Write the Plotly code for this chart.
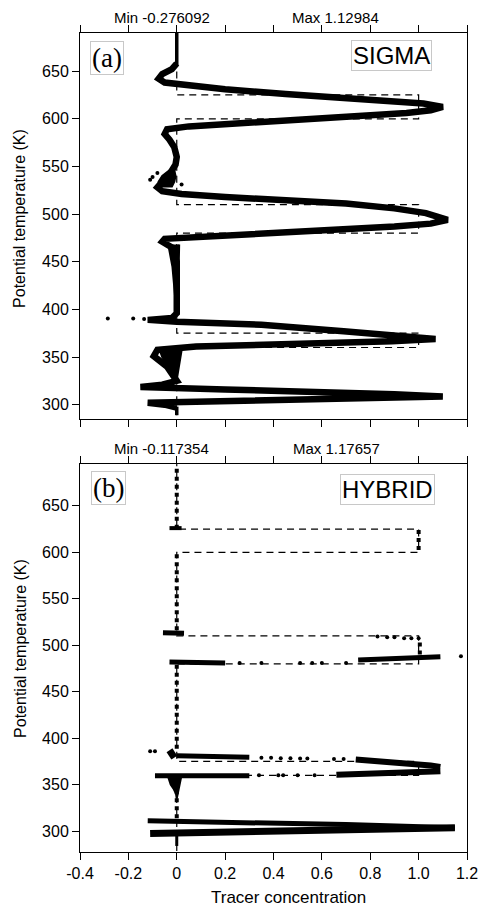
import plotly.graph_objects as go

# ---------------- data ----------------
x_tickvals = [-0.4, -0.2, 0, 0.2, 0.4, 0.6, 0.8, 1.0, 1.2]
x_ticktext = ["-0.4", "-0.2", "0", "0.2", "0.4", "0.6", "0.8", "1.0", "1.2"]
y_tickvals = [300, 350, 400, 450, 500, 550, 600, 650]
y_ticktext = ["300", "350", "400", "450", "500", "550", "600", "650"]

# initial square-wave tracer profile (dashed)
init_theta = [700, 625, 625, 600, 600, 510, 510, 480, 480, 375, 375, 360, 360, 270]
init_conc = [0, 0, 1, 1, 0, 0, 1, 1, 0, 0, 1, 1, 0, 0]

# ---- panel (a) SIGMA ----
sigma_top_theta = [690, 656]
sigma_top_conc = [0, 0]
sigma_theta = [658, 652, 647, 642, 638, 636, 631, 626, 622, 619, 616, 612.5, 609, 606, 603,
               600, 596, 592, 589, 584, 578, 570, 560, 552, 546, 541, 534, 528, 524, 521, 518,
               515, 511, 506, 501, 494, 490, 487, 483, 480, 477, 474, 471, 465, 450, 420, 396,
               391, 389, 387, 384, 377, 371, 369, 366.5, 363.5, 361, 357.5, 351, 340, 330, 325,
               321, 318.5, 316, 313.5, 311, 308.6, 306, 304, 302, 300, 297]
sigma_conc = [0, -0.02, -0.06, -0.075, -0.05, 0.02, 0.2, 0.45, 0.7, 0.9, 1.02, 1.1, 1.05, 0.95, 0.75,
              0.5, 0.25, 0.05, -0.04, -0.05, -0.03, -0.01, 0, -0.005, -0.02, -0.03, -0.06, -0.08, -0.06, 0.02, 0.2,
              0.45, 0.7, 0.9, 1.03, 1.12, 1.05, 0.9, 0.6, 0.35, 0.1, -0.05, -0.06, -0.02, 0, 0, 0,
              -0.02, -0.12, 0, 0.35, 0.69, 1.02, 1.07, 0.89, 0.48, 0.08, -0.08, -0.095, -0.04, -0.01, 0,
              -0.06, -0.15, 0.2, 0.62, 0.9, 1.1, 0.65, 0.3, -0.12, -0.05, 0]
sigma_tail_theta = [298, 289]
sigma_tail_conc = [0, 0]
# spread regions (closed outlines)
sigma_stem_theta = [468, 445, 417, 398, 398, 417, 445, 468]
sigma_stem_conc = [-0.035, -0.018, -0.008, -0.003, 0.003, 0.006, 0.008, 0.01]
sigma_blob_theta = [357, 350, 342, 334, 326, 334, 342, 350, 357]
sigma_blob_conc = [-0.07, -0.06, -0.04, -0.02, 0, 0.005, 0.01, 0.015, 0.02]
sigma_mid_theta = [546, 540, 534, 529, 529, 534, 540, 546]
sigma_mid_conc = [-0.03, -0.06, -0.075, -0.07, -0.02, -0.01, -0.005, -0.01]
sigma_out_theta = [390.5, 390.5, 390, 539, 543, 536, 531]
sigma_out_conc = [-0.285, -0.18, -0.135, -0.1, -0.08, -0.11, 0.02]

# ---- panel (b) HYBRID ----
# vertical dotted columns
hyb_col_conc = [0, 1.0, 0, 0, 0, 1.005]
hyb_col_top = [690, 624, 598, 479, 344, 503]
hyb_col_bot = [627, 601, 516, 388, 313, 489]
# dense near-horizontal bands
hyb_b1_theta = [626, 626]; hyb_b1_conc = [-0.03, 0.02]
hyb_b2_theta = [513.5, 513]; hyb_b2_conc = [-0.057, 0.03]
hyb_b3_theta = [484, 485, 486, 487.5]; hyb_b3_conc = [0.75, 0.9, 1.0, 1.09]
hyb_b4_theta = [482, 481.5, 481.5, 481]; hyb_b4_conc = [-0.03, 0.05, 0.135, 0.2]
hyb_b5_theta = [381, 380.5, 380, 379.5]; hyb_b5_conc = [0.0, 0.1, 0.2, 0.3]
hyb_b6_theta = [377, 375, 373, 370.5, 369]; hyb_b6_conc = [0.74, 0.85, 0.95, 1.05, 1.09]
hyb_b7_theta = [359.5, 359.5, 359.5]; hyb_b7_conc = [-0.09, 0.1, 0.3]
hyb_b8_theta = [360.5, 361.5, 362.5, 364.5]; hyb_b8_conc = [0.66, 0.8, 0.95, 1.09]
hyb_b9_theta = [387, 383, 379]; hyb_b9_conc = [-0.03, -0.02, -0.01]
hyb_up_theta = [311, 309.5, 307, 303.5]; hyb_up_conc = [-0.12, 0.3, 0.7, 1.15]
hyb_lo_theta = [297.5, 299, 301.5, 303.5]; hyb_lo_conc = [-0.11, 0.3, 0.7, 1.15]
hyb_tail_theta = [297, 284]; hyb_tail_conc = [0, 0]
hyb_blob_theta = [358, 350, 345, 340, 335, 340, 345, 350, 358]
hyb_blob_conc = [-0.035, -0.025, -0.012, -0.003, 0, 0.004, 0.008, 0.012, 0.018]
# scattered single points
hyb_dot_theta = [509.5, 508.5, 508.5, 507.5, 507.5, 507.5, 488,
                 481, 481, 481, 481, 481, 481,
                 379, 379, 378.5, 378.5, 378, 378, 377.5, 377.5,
                 360, 360, 360, 360, 360, 386, 386]
hyb_dot_conc = [0.83, 0.87, 0.9, 0.94, 0.97, 1.0, 1.175,
                0.26, 0.35, 0.51, 0.56, 0.6, 0.7,
                0.35, 0.39, 0.43, 0.47, 0.51, 0.54, 0.65, 0.69,
                0.34, 0.42, 0.44, 0.5, 0.57, -0.11, -0.09]

# ---------------- layout helpers ----------------
# the page body adds an 8px margin, so the figure is drawn 8px smaller
OFF = 8
W, H = 490 - OFF, 906 - OFF
L, R, T, B = 80 - OFF, 17, 33 - OFF, 54
PW, PH = W - L - R, H - T - B


def px(xp):  # screen x -> paper
    return (xp - OFF - L) / PW


def py(yp):  # screen y -> paper
    return (H - B - (yp - OFF)) / PH


fig = go.Figure()
BLACK = "black"


def line(xs, ys, ax, width, dash=None, mode="lines"):
    fig.add_trace(go.Scatter(x=xs, y=ys, mode=mode, xaxis=ax[0], yaxis=ax[1],
                             line=dict(color=BLACK, width=width, dash=dash),
                             hoverinfo="skip", showlegend=False))


def poly(xs, ys, ax):
    fig.add_trace(go.Scatter(x=xs, y=ys, mode="lines", fill="toself", fillcolor=BLACK,
                             xaxis=ax[0], yaxis=ax[1], line=dict(color=BLACK, width=2),
                             hoverinfo="skip", showlegend=False))


def dots(xs, ys, ax, size=4):
    fig.add_trace(go.Scatter(x=xs, y=ys, mode="markers", xaxis=ax[0], yaxis=ax[1],
                             marker=dict(color=BLACK, size=size),
                             hoverinfo="skip", showlegend=False))


A = ("x", "y")
Bx = ("x2", "y2")
DASH = "7px,5px"

# panel (a)
line(init_conc, init_theta, A, 1.2, DASH)
poly(sigma_stem_conc, sigma_stem_theta, A)
poly(sigma_blob_conc, sigma_blob_theta, A)
poly(sigma_mid_conc, sigma_mid_theta, A)
line(sigma_top_conc, sigma_top_theta, A, 3.5)
line(sigma_tail_conc, sigma_tail_theta, A, 3.5)
line(sigma_conc, sigma_theta, A, 6.5)
dots(sigma_out_conc, sigma_out_theta, A, 4)

# panel (b)
line(init_conc, init_theta, Bx, 1.2, DASH)
cx, cy = [], []
for c, t0, t1 in zip(hyb_col_conc, hyb_col_top, hyb_col_bot):
    cx += [c, c, None]
    cy += [t0, t1, None]
line(cx, cy, Bx, 4, "dot")
for xs, ys, w in [(hyb_b1_conc, hyb_b1_theta, 4), (hyb_b2_conc, hyb_b2_theta, 5),
                  (hyb_b3_conc, hyb_b3_theta, 5), (hyb_b4_conc, hyb_b4_theta, 5),
                  (hyb_b5_conc, hyb_b5_theta, 5), (hyb_b6_conc, hyb_b6_theta, 6),
                  (hyb_b7_conc, hyb_b7_theta, 5), (hyb_b8_conc, hyb_b8_theta, 6),
                  (hyb_b9_conc, hyb_b9_theta, 7), (hyb_up_conc, hyb_up_theta, 5),
                  (hyb_lo_conc, hyb_lo_theta, 7), (hyb_tail_conc, hyb_tail_theta, 3)]:
    line(xs, ys, Bx, w)
poly(hyb_blob_conc, hyb_blob_theta, Bx)
dots(hyb_dot_conc, hyb_dot_theta, Bx, 4)

FONT = "Liberation Sans, Arial, sans-serif"
axis_common = dict(showline=True, linecolor=BLACK, linewidth=1, ticks="outside", ticklen=7,
                   tickcolor=BLACK, tickwidth=1, showgrid=False, zeroline=False,
                   tickfont=dict(family=FONT, size=16, color=BLACK))

fig.update_layout(
    width=W, height=H, margin=dict(l=L, r=R, t=T, b=B),
    paper_bgcolor="white", plot_bgcolor="white",
    font=dict(family=FONT, color=BLACK),
    xaxis=dict(**axis_common, range=[-0.4, 1.2], tickvals=x_tickvals, ticktext=x_ticktext,
               showticklabels=False, mirror="ticks", anchor="y"),
    yaxis=dict(**axis_common, range=[285, 690], tickvals=y_tickvals, ticktext=y_ticktext,
               mirror=True, domain=[py(419), 1.0], anchor="x"),
    xaxis2=dict(**axis_common, range=[-0.4, 1.2], tickvals=x_tickvals, ticktext=x_ticktext,
                mirror="ticks", anchor="y2"),
    yaxis2=dict(**axis_common, range=[277.5, 695], tickvals=y_tickvals, ticktext=y_ticktext,
                mirror=True, domain=[0, py(464)], anchor="x2"),
)

ann = []


def text(s, xp, yp, size, family=FONT, angle=0, border=None):
    d = dict(text=s, x=px(xp), y=py(yp), xref="paper", yref="paper", showarrow=False,
             xanchor="center", yanchor="middle", textangle=angle,
             font=dict(family=family, size=size, color=BLACK))
    if border:
        d.update(bordercolor=border, borderwidth=1, borderpad=1, bgcolor="white")
    ann.append(d)


text("Min -0.276092", 163, 17, 15)
text("Max 1.12984", 339, 17, 15)
text("Min -0.117354", 163, 448, 15)
text("Max 1.17657", 340, 448, 15)
text("Potential temperature (K)", 19, 218, 16, angle=-90)
text("Potential temperature (K)", 19, 648, 16, angle=-90)
text("Tracer concentration", 292, 897, 17)
text("(a)", 107, 58, 27, family="Liberation Serif, Times New Roman, serif", border="#c8c8c8")
text("SIGMA", 396.5, 55.5, 24, border="#c8c8c8")
text("(b)", 108.5, 487.5, 27, family="Liberation Serif, Times New Roman, serif", border="#c8c8c8")
text("HYBRID", 392.5, 489.5, 24, border="#c8c8c8")
fig.update_layout(annotations=ann)

fig.write_html("out.html")
